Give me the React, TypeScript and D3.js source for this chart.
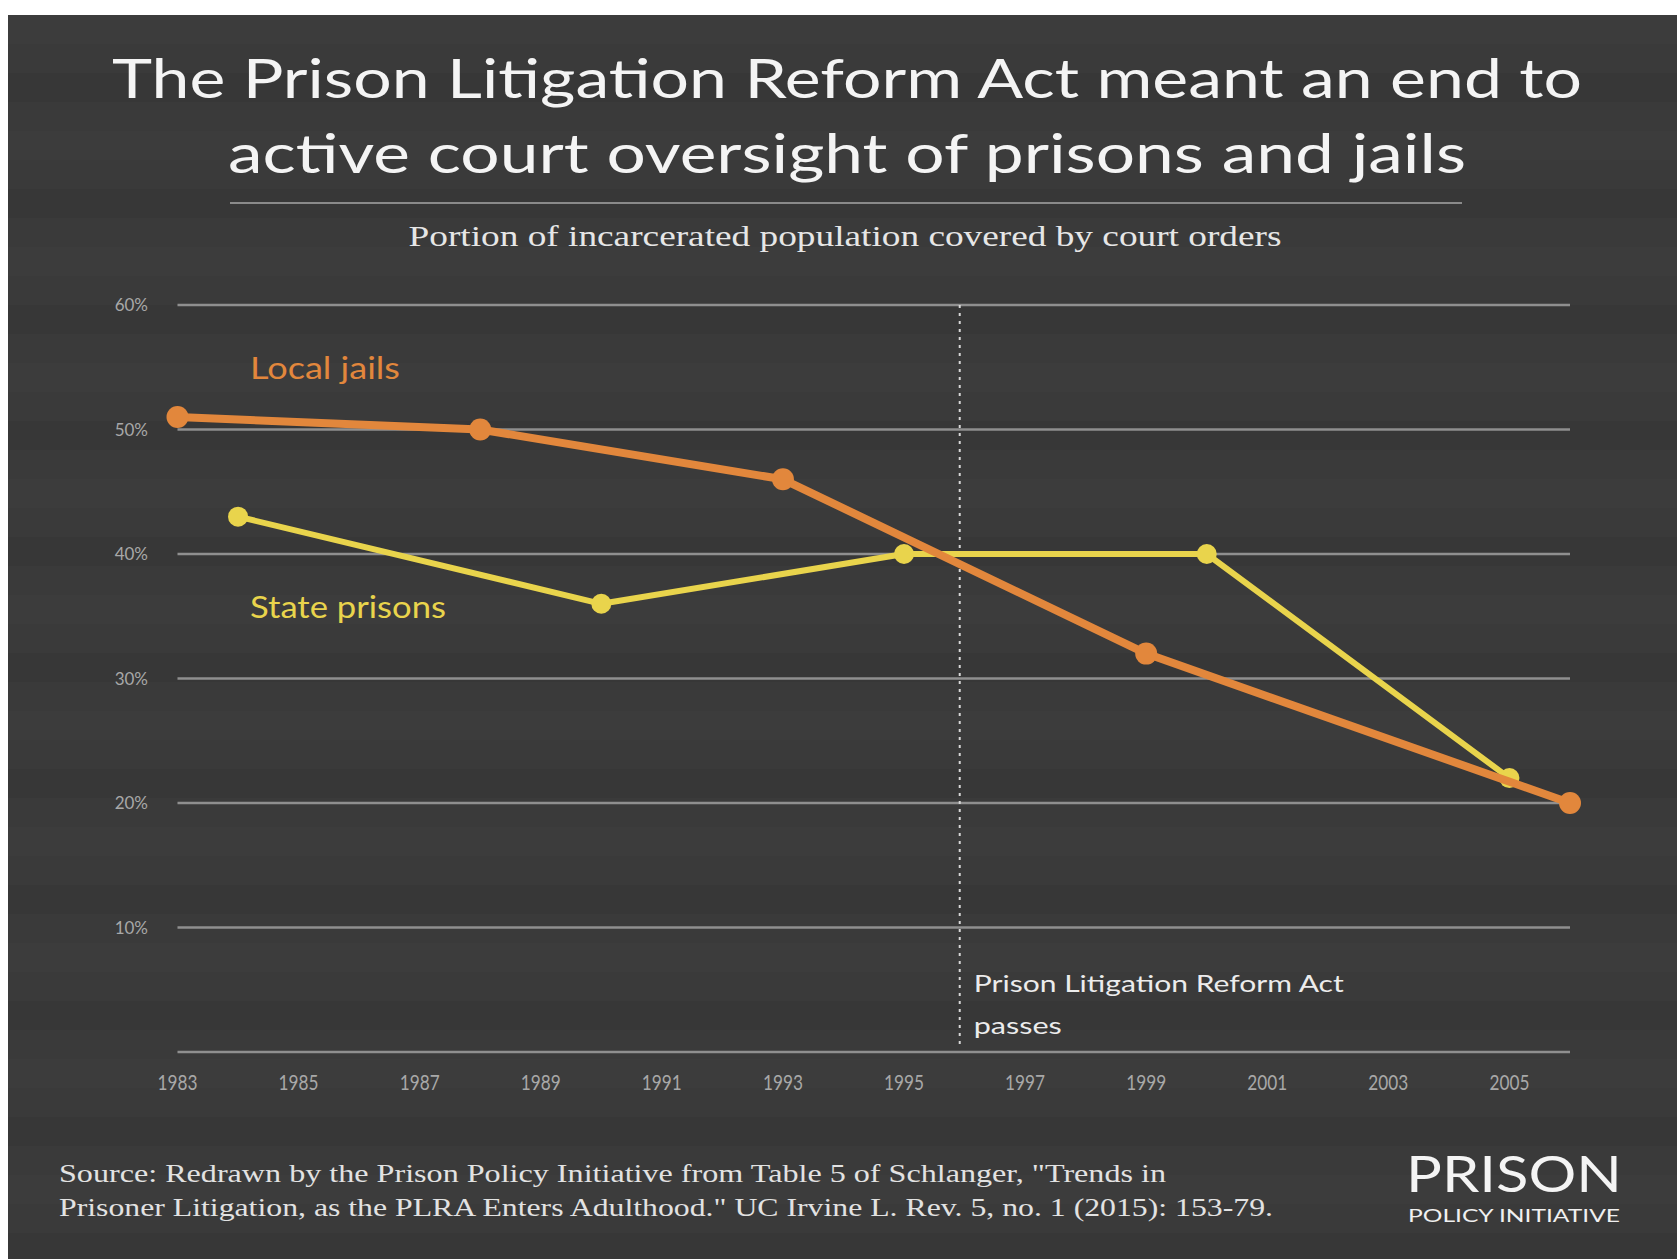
import React from "react";
import * as d3 from "d3";

const W = 1677;
const H = 1259;

const titleLines = [
  "The Prison Litigation Reform Act meant an end to",
  "active court oversight of prisons and jails",
];
const subtitle = "Portion of incarcerated population covered by court orders";
const sourceLines = [
  "Source: Redrawn by the Prison Policy Initiative from Table 5 of Schlanger, \"Trends in",
  "Prisoner Litigation, as the PLRA Enters Adulthood.\" UC Irvine L. Rev. 5, no. 1 (2015): 153-79.",
];

const jailYears = [1983, 1988, 1993, 1999, 2006];
const jailValues = [51, 50, 46, 32, 20];
const prisonYears = [1984, 1990, 1995, 2000, 2005];
const prisonValues = [43, 36, 40, 40, 22];

const yTicks = [10, 20, 30, 40, 50, 60];
const xTicks = [1983, 1985, 1987, 1989, 1991, 1993, 1995, 1997, 1999, 2001, 2003, 2005];
const plraYear = 1995.92;
const plraLabel = ["Prison Litigation Reform Act", "passes"];

const ORANGE = "#e2873c";
const YELLOW = "#e9d44c";
const GRID = "#8f8f8f";
const BG = "#3a3a3a";
const SANS = "Lato, 'Open Sans', sans-serif";
const SERIF = "'Liberation Serif', 'DejaVu Serif', serif";

export default function App() {
  const x = d3.scaleLinear().domain([1983, 2006]).range([177.5, 1570]);
  const y = d3.scaleLinear().domain([0, 60]).range([1052, 305]);

  const jail = jailYears.map((yr, i) => ({ yr, v: jailValues[i] }));
  const prison = prisonYears.map((yr, i) => ({ yr, v: prisonValues[i] }));
  const line = d3
    .line<{ yr: number; v: number }>()
    .x((d) => x(d.yr))
    .y((d) => y(d.v));

  const bands = d3.range(15, H, 58);

  return (
    <svg
      width={W}
      height={H}
      style={{ position: "absolute", left: 0, top: 0, background: "#fff" }}
    >
      <rect x={8} y={15} width={W - 8} height={H - 15} fill={BG} />
      {bands.map((b, i) => (
        <rect
          key={i}
          x={8}
          y={b}
          width={W - 8}
          height={29}
          fill={i % 2 ? "#363636" : "#3d3d3d"}
          opacity={0.6}
        />
      ))}

      {/* Title */}
      {titleLines.map((t, i) => (
        <text
          key={i}
          x={847}
          y={98 + i * 75}
          textAnchor="middle"
          fill="#f4f4f4"
          fontFamily={SANS}
          fontSize={54}
          textLength={i === 0 ? 1470 : 1238}
          lengthAdjust="spacingAndGlyphs"
        >
          {t}
        </text>
      ))}
      <line x1={230} x2={1462} y1={203} y2={203} stroke="#8a8a8a" strokeWidth={2} />
      <text
        x={845}
        y={246}
        textAnchor="middle"
        fill="#e6e6e6"
        fontFamily={SERIF}
        fontSize={30}
        textLength={873}
        lengthAdjust="spacingAndGlyphs"
      >
        {subtitle}
      </text>

      {/* Grid and y labels */}
      {[0, ...yTicks].map((t) => (
        <line
          key={t}
          x1={x(1983)}
          x2={x(2006)}
          y1={y(t)}
          y2={y(t)}
          stroke={GRID}
          strokeWidth={2.5}
        />
      ))}
      {yTicks.map((t) => (
        <text
          key={t}
          x={148}
          y={y(t) + 6}
          textAnchor="end"
          fill="#a8a8a8"
          fontFamily={SANS}
          fontSize={17}
        >
          {t}%
        </text>
      ))}
      {xTicks.map((t) => (
        <text
          key={t}
          x={x(t)}
          y={1090}
          textAnchor="middle"
          fill="#a8a8a8"
          fontFamily={SANS}
          fontSize={21}
          textLength={40}
          lengthAdjust="spacingAndGlyphs"
        >
          {t}
        </text>
      ))}

      {/* PLRA marker */}
      <line
        x1={x(plraYear)}
        x2={x(plraYear)}
        y1={y(60)}
        y2={1045}
        stroke="#d8d8d8"
        strokeWidth={2}
        strokeDasharray="3,5"
      />
      {plraLabel.map((t, i) => (
        <text
          key={i}
          x={x(plraYear) + 14}
          y={992 + i * 42}
          fill="#ececec"
          fontFamily={SANS}
          fontSize={24}
          textLength={i === 0 ? 370 : 88}
          lengthAdjust="spacingAndGlyphs"
        >
          {t}
        </text>
      ))}

      {/* Series */}
      <path d={line(prison) || ""} fill="none" stroke={YELLOW} strokeWidth={6} strokeLinejoin="round" />
      {prison.map((d, i) => (
        <circle key={i} cx={x(d.yr)} cy={y(d.v)} r={10} fill={YELLOW} />
      ))}
      <path d={line(jail) || ""} fill="none" stroke={ORANGE} strokeWidth={8} strokeLinejoin="round" />
      {jail.map((d, i) => (
        <circle key={i} cx={x(d.yr)} cy={y(d.v)} r={11} fill={ORANGE} />
      ))}

      <text x={250} y={379} fill={ORANGE} fontFamily={SANS} fontSize={30} textLength={150} lengthAdjust="spacingAndGlyphs">
        Local jails
      </text>
      <text x={250} y={618} fill={YELLOW} fontFamily={SANS} fontSize={30} textLength={196} lengthAdjust="spacingAndGlyphs">
        State prisons
      </text>

      {/* Source */}
      {sourceLines.map((t, i) => (
        <text
          key={i}
          x={59}
          y={1182 + i * 34}
          fill="#e2e2e2"
          fontFamily={SERIF}
          fontSize={26}
          textLength={i === 0 ? 1107 : 1214}
          lengthAdjust="spacingAndGlyphs"
        >
          {t}
        </text>
      ))}

      {/* Logo */}
      <text x={1406} y={1192} fill="#f4f4f4" fontFamily={SANS} fontSize={50} textLength={216} lengthAdjust="spacingAndGlyphs">
        PRISON
      </text>
      <text x={1408} y={1222} fill="#f0f0f0" fontFamily={SANS} fontSize={18} textLength={212} lengthAdjust="spacingAndGlyphs">
        POLICY INITIATIVE
      </text>
    </svg>
  );
}
